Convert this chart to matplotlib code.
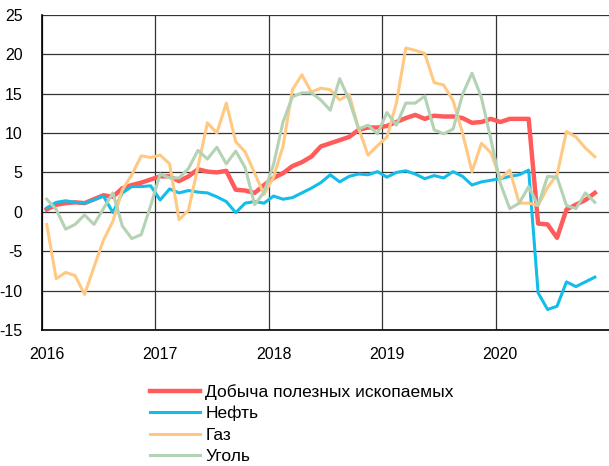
import matplotlib.pyplot as plt
from matplotlib.ticker import FixedLocator, NullFormatter, FixedFormatter

plt.rcParams['axes.unicode_minus'] = False

# monthly data, Jan 2016 - Nov 2020, % y/y
mining = [0.3, 0.9, 1.1, 1.2, 1.1, 1.6, 2.1, 1.9, 3.0, 3.4, 3.7, 4.1,
          4.5, 4.5, 3.9, 4.5, 5.4, 5.1, 5.0, 5.2, 2.8, 2.7, 2.4, 3.4,
          4.3, 4.9, 5.8, 6.3, 7.0, 8.3, 8.7, 9.1, 9.5, 10.4, 10.7, 10.7,
          10.9, 11.4, 11.9, 12.3, 11.8, 12.2, 12.1, 12.1, 11.9, 11.3, 11.4, 11.8,
          11.4, 11.8, 11.8, 11.8, -1.5, -1.6, -3.3, 0.3, 0.9, 1.5, 2.4]
oil = [0.5, 1.2, 1.4, 1.2, 1.1, 1.5, 2.0, -0.1, 2.4, 3.2, 3.2, 3.3,
       1.5, 2.9, 2.4, 2.7, 2.5, 2.4, 1.9, 1.3, -0.1, 1.1, 1.3, 1.1,
       2.0, 1.6, 1.8, 2.4, 3.0, 3.7, 4.7, 3.8, 4.5, 4.8, 4.7, 5.1,
       4.4, 5.0, 5.2, 4.8, 4.2, 4.6, 4.3, 5.1, 4.5, 3.4, 3.8, 4.0,
       4.2, 4.5, 4.7, 5.3, -10.3, -12.4, -12.0, -8.9, -9.5, -8.9, -8.3]
gas = [-1.6, -8.5, -7.7, -8.1, -10.5, -7.0, -3.6, -1.2, 2.8, 4.7, 7.1, 6.9,
       7.2, 6.1, -1.0, 0.2, 5.7, 11.3, 10.0, 13.8, 8.9, 7.6, 4.9, 2.2,
       4.4, 8.3, 15.5, 17.4, 15.2, 15.7, 15.5, 14.2, 14.9, 10.6, 7.2, 8.4,
       9.5, 13.8, 20.8, 20.5, 20.1, 16.4, 16.1, 14.1, 10.0, 5.1, 8.7, 7.5,
       4.2, 5.3, 1.1, 1.1, 0.8, 3.1, 4.7, 10.2, 9.5, 8.1, 7.0]
coal = [1.6, 0.3, -2.2, -1.6, -0.4, -1.6, 0.4, 2.4, -1.8, -3.4, -2.9, 0.8,
        4.8, 4.3, 4.3, 5.5, 7.8, 6.7, 8.2, 6.1, 7.7, 5.6, 0.9, 2.5,
        6.0, 11.4, 14.6, 15.1, 15.1, 14.2, 12.9, 16.9, 14.2, 10.5, 11.0, 9.9,
        12.6, 11.0, 13.8, 13.8, 14.7, 10.4, 9.9, 10.5, 14.9, 17.6, 14.5, 9.2,
        3.6, 0.4, 1.1, 3.2, 0.8, 4.5, 4.4, 0.8, 0.4, 2.4, 1.2]
years = ["2016", "2017", "2018", "2019", "2020"]

months = list(range(len(mining)))

fig = plt.figure(figsize=(6.09, 4.66), dpi=100)
ax = fig.add_axes([0.069, 0.292, 0.931, 0.676])

ax.plot(months, mining, color="#FF5B5B", lw=3.2, label="Добыча полезных ископаемых")
ax.plot(months, oil, color="#13BDEA", lw=2.2, label="Нефть")
ax.plot(months, gas, color="#FFC983", lw=2.2, label="Газ")
ax.plot(months, coal, color="#B4D2B4", lw=2.2, label="Уголь")

ax.set_xlim(-0.5, 59.5)
ax.set_ylim(-15, 25)
ax.set_yticks(range(-15, 26, 5))

# gridlines at year boundaries, labels under January points
ax.xaxis.set_major_locator(FixedLocator([12 * k - 0.5 for k in range(5)]))
ax.xaxis.set_major_formatter(NullFormatter())
ax.xaxis.set_minor_locator(FixedLocator([12 * k for k in range(5)]))
ax.xaxis.set_minor_formatter(FixedFormatter(years))

ax.grid(True, which="major", color="#333333", lw=0.9)
ax.set_axisbelow(True)
ax.tick_params(which="both", length=0)
ax.tick_params(axis="y", pad=14)
ax.tick_params(axis="x", which="minor", pad=12)

for lab in ax.get_yticklabels() + ax.xaxis.get_minorticklabels():
    lab.set_family("Liberation Sans")
    lab.set_fontsize(11.5)

for side in ["top", "right"]:
    ax.spines[side].set_visible(False)
for side in ["left", "bottom"]:
    ax.spines[side].set_color("black")
    ax.spines[side].set_linewidth(1.2)

fig.legend(loc="center left", bbox_to_anchor=(0.246, 0.09), frameon=False,
           prop={"family": "Liberation Sans", "size": 12.5},
           handlelength=2.9, handletextpad=0.3, labelspacing=0.36,
           borderpad=0, borderaxespad=0)

fig.savefig("out.png", dpi=100)
